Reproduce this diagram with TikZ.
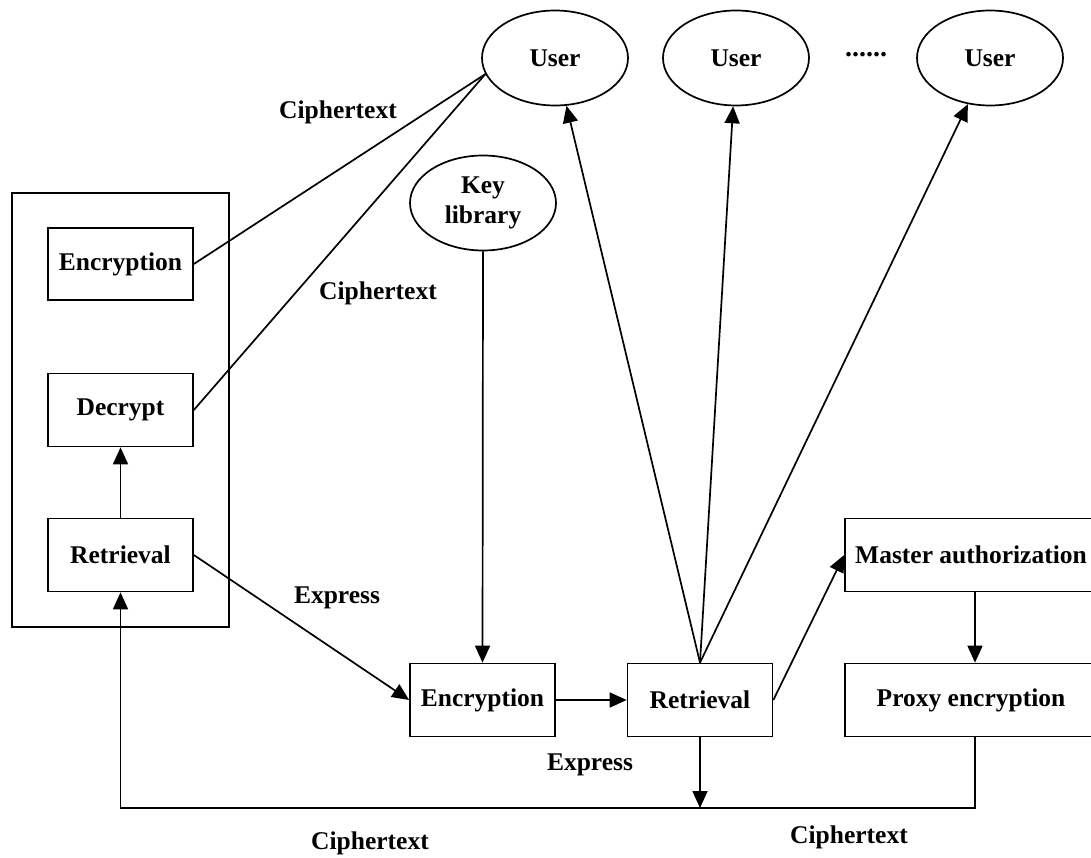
\documentclass[tikz,border=0pt]{standalone}
\usepackage{fontspec}
\setmainfont{Liberation Serif}
\usetikzlibrary{shapes.geometric,arrows.meta}
\tikzset{
  every node/.style={font=\fontsize{25.5}{30}\selectfont\bfseries},
  box/.style={draw, line width=1.7pt, rectangle, minimum height=73pt, inner sep=0pt},
  user/.style={draw, line width=1.7pt, ellipse, minimum width=146pt, minimum height=95pt, inner sep=0pt},
  lbl/.style={inner sep=0pt},
  link/.style={line width=1.7pt},
  arr/.style={line width=1.7pt, -{Triangle[length=17pt,width=15pt]}}
}
\begin{document}
\begin{tikzpicture}[x=1pt,y=-1pt]
\useasboundingbox (0,0) rectangle (1091,858);
% users
\node[user] (u1) at (555,58) {User};
\node[user] (u2) at (736,58) {User};
\node[user] (u3) at (990,58) {User};
\node[lbl, anchor=base, font=\fontsize{28}{30}\selectfont\bfseries] (dots) at (866,57) {......};
% key library
\node[user, align=center] (key) at (483,203) {Key\\library};
% left group
\node[draw, line width=1.7pt, minimum width=217pt, minimum height=434pt, inner sep=0pt] (outer) at (120.5,410) {};
\node[box, minimum width=145pt, minimum height=72pt] (enc1) at (120.5,264) {Encryption};
\node[box, minimum width=145pt] (dec) at (120.5,410) {Decrypt};
\node[box, minimum width=145pt] (ret1) at (120.5,555) {Retrieval};
% bottom row
\node[box, minimum width=145pt] (enc2) at (482.5,700) {Encryption};
\node[box, minimum width=145pt] (ret2) at (700,700) {Retrieval};
\node[box, minimum width=260pt] (master) at (975,555) {};
\node[lbl] (mastertxt) at (971,555) {Master authorization};
\node[box, minimum width=260pt] (proxy) at (975,700) {};
\node[lbl] (proxytxt) at (971,700) {Proxy encryption};
\coordinate (j) at (700,808);
% labels
\node[lbl] (c1) at (338,112) {Ciphertext};
\node[lbl] (c2) at (378,293) {Ciphertext};
\node[lbl] (e1) at (337,598) {Express};
\node[lbl] (e2) at (590,765) {Express};
\node[lbl] (c3) at (370,843) {Ciphertext};
\node[lbl] (c4) at (849,837) {Ciphertext};
% connectors
\draw[link] (enc1.east) -- (u1.193);
\draw[link] (dec.east) -- (u1.193);
\draw[arr] (ret1.north) -- (dec.south);
\draw[arr] (ret1.east) -- (enc2.west);
\draw[arr] (key.south) -- (enc2.north);
\draw[arr] (enc2.east) -- (ret2.west);
\draw[arr] (ret2.north) -- (u1);
\draw[arr] (ret2.north) -- (u2);
\draw[arr] (ret2.north) -- (u3);
\draw[arr] (ret2.east) -- (master.west);
\draw[arr] (master.south) -- (proxy.north);
\draw[arr] (ret2.south) -- (j);
\draw[arr] (proxy.south) |- (ret1.south |- j) -- (ret1.south);
\end{tikzpicture}
\end{document}
